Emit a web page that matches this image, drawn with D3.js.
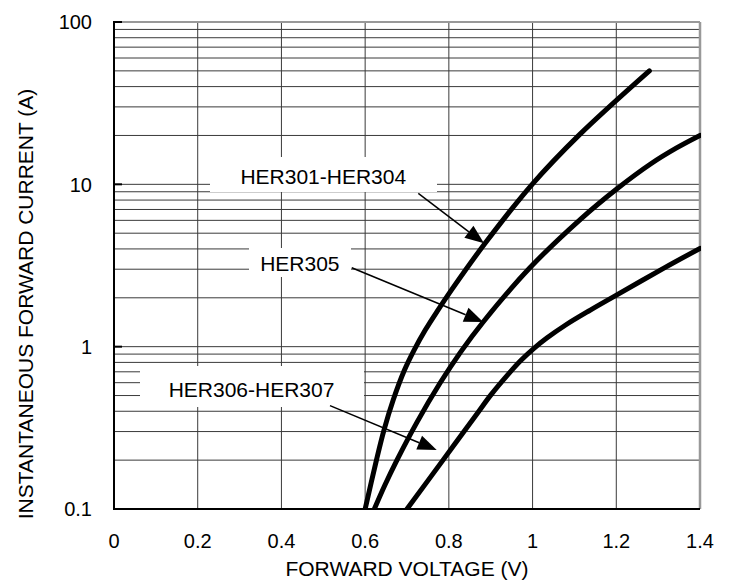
<!DOCTYPE html>
<html>
<head>
<meta charset="utf-8">
<script src="https://cdn.jsdelivr.net/npm/d3@7"></script>
<style>
  html, body { margin: 0; padding: 0; background: #fff; }
  svg { display: block; font-family: "Liberation Sans", Arial, sans-serif; }
</style>
</head>
<body>
<div id="chart"></div>
<script>
// forward voltage (V) vs instantaneous forward current (A)
const voltTicks = [0, 0.2, 0.4, 0.6, 0.8, 1, 1.2, 1.4];
const currentTicks = [0.1, 1, 10, 100];

const her301V = [0.600, 0.627, 0.645, 0.667, 0.694, 0.717, 0.744, 0.774, 0.806, 0.887, 0.999, 1.111, 1.279];
const her301I = [0.1, 0.2, 0.306, 0.469, 0.718, 0.953, 1.27, 1.68, 2.23, 4.35, 10.0, 20.1, 50];

const her305V = [0.622, 0.647, 0.676, 0.724, 0.779, 0.828, 0.882, 0.993, 1.115, 1.201, 1.281, 1.343, 1.400];
const her305I = [0.1, 0.14, 0.2, 0.343, 0.597, 0.926, 1.42, 3.05, 6.11, 9.36, 13.3, 16.7, 20];

const her306V = [0.700, 0.786, 0.870, 0.900, 0.940, 0.973, 1.004, 1.034, 1.079, 1.138, 1.192, 1.318, 1.400];
const her306I = [0.1, 0.2, 0.395, 0.503, 0.668, 0.827, 0.980, 1.13, 1.36, 1.68, 2.02, 3.09, 4.03];

const seriesNames = ["HER301-HER304", "HER305", "HER306-HER307"];
// label anchor (centre V, baseline I) and arrow from/to in data units
const labelV = [0.5, 0.444, 0.3285];
const labelI = [10, 2.94, 0.49];
const arrowFromV = [0.727, 0.568, 0.516];
const arrowFromI = [8.8, 3.06, 0.433];
const arrowToV = [0.884, 0.882, 0.771];
const arrowToI = [4.33, 1.42, 0.231];

const W = 731, H = 581;
const plot = { left: 114, right: 700, top: 22, bottom: 509 };

const svg = d3.select("#chart").append("svg")
  .attr("width", W)
  .attr("height", H);

const x = d3.scaleLinear().domain([0, 1.4]).range([plot.left, plot.right]);
const y = d3.scaleLog().domain([0.1, 100]).range([plot.bottom, plot.top]);

// grid
const minor = [];
[0.1, 1, 10].forEach(d => { for (let k = 1; k <= 9; k++) minor.push(d * k); });
minor.push(100);

const grid = svg.append("g");
grid.selectAll("line.h")
  .data(minor)
  .join("line")
  .attr("class", "h")
  .attr("x1", plot.left).attr("x2", plot.right)
  .attr("y1", d => y(d)).attr("y2", d => y(d))
  .attr("stroke", "#3a3a3a").attr("stroke-width", 1);

grid.selectAll("line.v")
  .data(voltTicks)
  .join("line")
  .attr("class", "v")
  .attr("x1", d => x(d)).attr("x2", d => x(d))
  .attr("y1", plot.top).attr("y2", plot.bottom)
  .attr("stroke", "#3a3a3a").attr("stroke-width", 1);

// white label boxes
const boxes = [
  { l: 210, r: 437, t: 157, b: 192 },
  { l: 249, r: 351, t: 248, b: 277 },
  { l: 140, r: 364, t: 366, b: 407 }
];
svg.append("g").selectAll("rect")
  .data(boxes)
  .join("rect")
  .attr("x", d => d.l).attr("y", d => d.t)
  .attr("width", d => d.r - d.l).attr("height", d => d.b - d.t)
  .attr("fill", "#fff");

// frame
const frame = svg.append("g");
frame.append("line").attr("x1", plot.left).attr("x2", plot.right).attr("y1", plot.top).attr("y2", plot.top)
  .attr("stroke", "#999").attr("stroke-width", 2);
frame.append("line").attr("x1", plot.right).attr("x2", plot.right).attr("y1", plot.top).attr("y2", plot.bottom)
  .attr("stroke", "#999").attr("stroke-width", 2.5);
frame.append("line").attr("x1", plot.left).attr("x2", plot.left).attr("y1", plot.top - 1).attr("y2", plot.bottom + 1)
  .attr("stroke", "#000").attr("stroke-width", 2);
frame.append("line").attr("x1", plot.left).attr("x2", plot.right).attr("y1", plot.bottom).attr("y2", plot.bottom)
  .attr("stroke", "#000").attr("stroke-width", 2);
frame.selectAll("line.tick")
  .data(currentTicks)
  .join("line")
  .attr("class", "tick")
  .attr("x1", plot.left).attr("x2", plot.left + 8)
  .attr("y1", d => y(d)).attr("y2", d => y(d))
  .attr("stroke", "#000").attr("stroke-width", 2);

// curves
const line = d3.line()
  .x(d => x(d[0]))
  .y(d => y(d[1]))
  .curve(d3.curveCatmullRom.alpha(0.5));

const series = [
  d3.zip(her301V, her301I),
  d3.zip(her305V, her305I),
  d3.zip(her306V, her306I)
];

svg.append("defs").append("clipPath").attr("id", "clip")
  .append("rect")
  .attr("x", plot.left).attr("y", plot.top)
  .attr("width", plot.right - plot.left + 1).attr("height", plot.bottom - plot.top);

svg.append("g").attr("clip-path", "url(#clip)")
  .selectAll("path")
  .data(series)
  .join("path")
  .attr("d", line)
  .attr("fill", "none")
  .attr("stroke", "#000")
  .attr("stroke-width", 5)
  .attr("stroke-linecap", "round")
  .attr("stroke-linejoin", "round");

// arrows
const arrows = d3.range(3).map(i => ({
  x1: x(arrowFromV[i]), y1: y(arrowFromI[i]),
  x2: x(arrowToV[i]), y2: y(arrowToI[i])
}));
const ag = svg.append("g");
arrows.forEach(a => {
  const ang = Math.atan2(a.y2 - a.y1, a.x2 - a.x1);
  const len = 19, half = 7.5;
  const bx = a.x2 - len * Math.cos(ang), by = a.y2 - len * Math.sin(ang);
  ag.append("line")
    .attr("x1", a.x1).attr("y1", a.y1)
    .attr("x2", bx).attr("y2", by)
    .attr("stroke", "#000").attr("stroke-width", 1.5);
  ag.append("path")
    .attr("d", `M${a.x2},${a.y2}L${bx - half * Math.sin(ang)},${by + half * Math.cos(ang)}L${bx + half * Math.sin(ang)},${by - half * Math.cos(ang)}Z`)
    .attr("fill", "#000");
});

// series labels
svg.append("g").selectAll("text")
  .data(seriesNames)
  .join("text")
  .attr("x", (d, i) => x(labelV[i]))
  .attr("y", (d, i) => y(labelI[i]))
  .attr("text-anchor", "middle")
  .attr("font-size", 21)
  .attr("fill", "#000")
  .text(d => d);

// tick labels
svg.append("g").selectAll("text")
  .data(voltTicks)
  .join("text")
  .attr("x", d => x(d))
  .attr("y", 548)
  .attr("text-anchor", "middle")
  .attr("font-size", 20)
  .text(d => d3.format("")(d));

svg.append("g").selectAll("text")
  .data(currentTicks)
  .join("text")
  .attr("x", 92)
  .attr("y", d => y(d))
  .attr("dy", "0.36em")
  .attr("text-anchor", "end")
  .attr("font-size", 20)
  .text(d => d3.format("")(d));

// axis titles
svg.append("text")
  .attr("x", (plot.left + plot.right) / 2)
  .attr("y", 576)
  .attr("text-anchor", "middle")
  .attr("font-size", 21)
  .text("FORWARD VOLTAGE (V)");

svg.append("text")
  .attr("transform", "translate(33,304) rotate(-90)")
  .attr("text-anchor", "middle")
  .attr("font-size", 21)
  .text("INSTANTANEOUS FORWARD CURRENT (A)");
</script>
</body>
</html>
